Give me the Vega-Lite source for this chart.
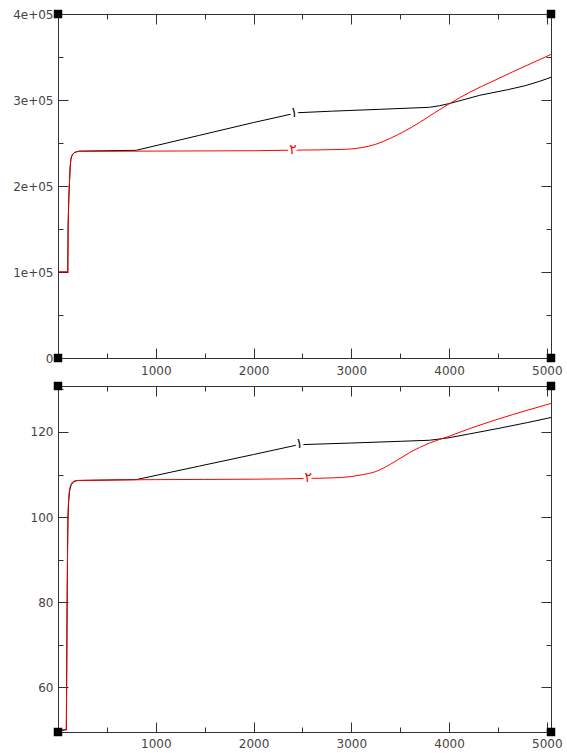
{
  "$schema": "https://vega.github.io/schema/vega-lite/v6.json",
  "padding": {"left": 12, "top": 8, "right": 2, "bottom": 2},
  "bounds": "flush",
  "spacing": 28,
  "background": "white",
  "datasets": {
    "top": [
      {"s": "1", "x": 0, "y": 100000}, {"s": "1", "x": 100, "y": 100000}, {"s": "1", "x": 103, "y": 150000},
      {"s": "1", "x": 110, "y": 185000}, {"s": "1", "x": 118, "y": 205000}, {"s": "1", "x": 125, "y": 222000},
      {"s": "1", "x": 132, "y": 231000}, {"s": "1", "x": 145, "y": 236000}, {"s": "1", "x": 170, "y": 239000},
      {"s": "1", "x": 210, "y": 240500}, {"s": "1", "x": 500, "y": 241000}, {"s": "1", "x": 800, "y": 241500},
      {"s": "1", "x": 1450, "y": 259000}, {"s": "1", "x": 2000, "y": 273800}, {"s": "1", "x": 2450, "y": 285200},
      {"s": "1", "x": 2800, "y": 287000}, {"s": "1", "x": 3300, "y": 289200}, {"s": "1", "x": 3800, "y": 291500},
      {"s": "1", "x": 3900, "y": 293300}, {"s": "1", "x": 4008, "y": 296000}, {"s": "1", "x": 4315, "y": 305500},
      {"s": "1", "x": 4600, "y": 312000}, {"s": "1", "x": 4775, "y": 316500}, {"s": "1", "x": 4920, "y": 321500},
      {"s": "1", "x": 5043, "y": 326300},
      {"s": "2", "x": 0, "y": 100000}, {"s": "2", "x": 100, "y": 100000}, {"s": "2", "x": 104, "y": 150000},
      {"s": "2", "x": 111, "y": 185000}, {"s": "2", "x": 118, "y": 207000}, {"s": "2", "x": 126, "y": 225000},
      {"s": "2", "x": 135, "y": 233000}, {"s": "2", "x": 150, "y": 237000}, {"s": "2", "x": 180, "y": 239500},
      {"s": "2", "x": 230, "y": 240300}, {"s": "2", "x": 1000, "y": 240600}, {"s": "2", "x": 2000, "y": 241000},
      {"s": "2", "x": 2500, "y": 241800}, {"s": "2", "x": 2900, "y": 242500}, {"s": "2", "x": 3100, "y": 244500},
      {"s": "2", "x": 3250, "y": 248500}, {"s": "2", "x": 3400, "y": 255500}, {"s": "2", "x": 3550, "y": 264000},
      {"s": "2", "x": 3700, "y": 274000}, {"s": "2", "x": 3850, "y": 285000}, {"s": "2", "x": 4008, "y": 296000},
      {"s": "2", "x": 4212, "y": 309000}, {"s": "2", "x": 4450, "y": 322000}, {"s": "2", "x": 4652, "y": 332800},
      {"s": "2", "x": 4850, "y": 343000}, {"s": "2", "x": 5043, "y": 353000}
    ],
    "bottom": [
      {"s": "1", "x": 0, "y": 50}, {"s": "1", "x": 85, "y": 50}, {"s": "1", "x": 92, "y": 75},
      {"s": "1", "x": 97, "y": 90}, {"s": "1", "x": 102, "y": 100}, {"s": "1", "x": 110, "y": 104},
      {"s": "1", "x": 120, "y": 106.3}, {"s": "1", "x": 135, "y": 107.6}, {"s": "1", "x": 160, "y": 108.3},
      {"s": "1", "x": 200, "y": 108.6}, {"s": "1", "x": 500, "y": 108.7}, {"s": "1", "x": 800, "y": 108.8},
      {"s": "1", "x": 1450, "y": 112.0}, {"s": "1", "x": 2000, "y": 114.7}, {"s": "1", "x": 2460, "y": 117.0},
      {"s": "1", "x": 3000, "y": 117.4}, {"s": "1", "x": 3500, "y": 117.8}, {"s": "1", "x": 3800, "y": 118.05},
      {"s": "1", "x": 3990, "y": 118.6}, {"s": "1", "x": 4200, "y": 119.5}, {"s": "1", "x": 4520, "y": 120.9},
      {"s": "1", "x": 4800, "y": 122.2}, {"s": "1", "x": 5043, "y": 123.4},
      {"s": "2", "x": 0, "y": 50}, {"s": "2", "x": 85, "y": 50}, {"s": "2", "x": 92, "y": 75},
      {"s": "2", "x": 97, "y": 90}, {"s": "2", "x": 102, "y": 100}, {"s": "2", "x": 110, "y": 104.5},
      {"s": "2", "x": 120, "y": 106.6}, {"s": "2", "x": 135, "y": 107.8}, {"s": "2", "x": 160, "y": 108.4},
      {"s": "2", "x": 200, "y": 108.6}, {"s": "2", "x": 1000, "y": 108.8}, {"s": "2", "x": 2000, "y": 108.9},
      {"s": "2", "x": 2600, "y": 109.1}, {"s": "2", "x": 2900, "y": 109.3}, {"s": "2", "x": 3100, "y": 109.9},
      {"s": "2", "x": 3250, "y": 110.7}, {"s": "2", "x": 3400, "y": 112.4}, {"s": "2", "x": 3600, "y": 115.2},
      {"s": "2", "x": 3800, "y": 117.4}, {"s": "2", "x": 3990, "y": 118.9}, {"s": "2", "x": 4200, "y": 120.7},
      {"s": "2", "x": 4500, "y": 123.0}, {"s": "2", "x": 4800, "y": 125.1}, {"s": "2", "x": 5043, "y": 126.7}
    ],
    "topLabels": [
      {"s": "1", "x": 2414, "y": 284700, "t": "١"},
      {"s": "2", "x": 2404, "y": 242000, "t": "٢"}
    ],
    "bottomLabels": [
      {"s": "1", "x": 2467, "y": 117.2, "t": "١"},
      {"s": "2", "x": 2559, "y": 109.1, "t": "٢"}
    ],
    "topCorners": [
      {"x": 0, "y": 0}, {"x": 5043, "y": 0}, {"x": 0, "y": 400000}, {"x": 5043, "y": 400000}
    ],
    "bottomCorners": [
      {"x": 0, "y": 49.5}, {"x": 5043, "y": 49.5}, {"x": 0, "y": 130.8}, {"x": 5043, "y": 130.8}
    ]
  },
  "vconcat": [
    {
      "width": 493,
      "height": 344,
      "resolve": {"axis": {"x": "independent", "y": "independent"}},
      "layer": [
        {
          "data": {"name": "top"},
          "transform": [{"filter": "datum.s === '1'"}],
          "mark": {"type": "line", "strokeWidth": 1, "color": "#000000"},
          "encoding": {
            "x": {"field": "x", "type": "quantitative", "scale": {"domain": [0, 5043], "nice": false, "zero": false},
              "axis": {"orient": "bottom", "values": [500, 1000, 1500, 2000, 2500, 3000, 3500, 4000, 4500, 5000], "format": "d",
                "tickSize": {"condition": {"test": "datum.value % 1000 === 0", "value": -10}, "value": -5},
                "labelExpr": "datum.value % 1000 === 0 ? datum.label : ''", "labelPadding": 17, "labelFlush": false, "labelOverlap": false}},
            "y": {"field": "y", "type": "quantitative", "scale": {"domain": [0, 400000], "nice": false},
              "axis": {"orient": "left", "values": [0, 50000, 100000, 150000, 200000, 250000, 300000, 350000, 400000],
                "tickSize": {"condition": {"test": "datum.value % 100000 === 0", "value": -10}, "value": -5},
                "labelExpr": "datum.value === 0 ? '0' : (datum.value % 100000 === 0 ? (datum.value / 100000) + 'e+05' : '')", "labelPadding": 15, "labelFlush": false, "labelOverlap": false}}
          }
        },
        {
          "data": {"name": "top"},
          "transform": [{"filter": "datum.s === '2'"}],
          "mark": {"type": "line", "strokeWidth": 1, "color": "#ff0000", "interpolate": "monotone"},
          "encoding": {
            "x": {"field": "x", "type": "quantitative", "axis": null},
            "y": {"field": "y", "type": "quantitative", "axis": null}
          }
        },
        {
          "data": {"name": "topLabels"},
          "mark": {"type": "text", "fontSize": 14, "font": "DejaVu Sans", "align": "center", "baseline": "middle", "stroke": "white", "strokeWidth": 6, "fill": "white"},
          "encoding": {
            "x": {"field": "x", "type": "quantitative", "axis": null},
            "y": {"field": "y", "type": "quantitative", "axis": null},
            "text": {"field": "t"}
          }
        },
        {
          "data": {"name": "topLabels"},
          "mark": {"type": "text", "fontSize": 14, "font": "DejaVu Sans", "align": "center", "baseline": "middle"},
          "encoding": {
            "x": {"field": "x", "type": "quantitative", "axis": null},
            "y": {"field": "y", "type": "quantitative", "axis": null},
            "text": {"field": "t"},
            "color": {"field": "s", "type": "nominal", "scale": {"domain": ["1", "2"], "range": ["#000000", "#ff0000"]}, "legend": null}
          }
        },
        {
          "data": {"name": "topCorners"},
          "mark": {"type": "square", "size": 72, "color": "#000000", "opacity": 1, "filled": true},
          "encoding": {
            "x": {"field": "x", "type": "quantitative",
              "axis": {"orient": "top", "labels": false, "values": [500, 1000, 1500, 2000, 2500, 3000, 3500, 4000, 4500, 5000],
                "tickSize": {"condition": {"test": "datum.value % 1000 === 0", "value": -10}, "value": -5}}},
            "y": {"field": "y", "type": "quantitative",
              "axis": {"orient": "right", "labels": false, "values": [0, 50000, 100000, 150000, 200000, 250000, 300000, 350000, 400000],
                "tickSize": {"condition": {"test": "datum.value % 100000 === 0", "value": -10}, "value": -5}}}
          }
        }
      ]
    },
    {
      "width": 493,
      "height": 346,
      "resolve": {"axis": {"x": "independent", "y": "independent"}},
      "layer": [
        {
          "data": {"name": "bottom"},
          "transform": [{"filter": "datum.s === '1'"}],
          "mark": {"type": "line", "strokeWidth": 1, "color": "#000000"},
          "encoding": {
            "x": {"field": "x", "type": "quantitative", "scale": {"domain": [0, 5043], "nice": false, "zero": false},
              "axis": {"orient": "bottom", "values": [500, 1000, 1500, 2000, 2500, 3000, 3500, 4000, 4500, 5000], "format": "d",
                "tickSize": {"condition": {"test": "datum.value % 1000 === 0", "value": -10}, "value": -5},
                "labelExpr": "datum.value % 1000 === 0 ? datum.label : ''", "labelPadding": 16, "labelFlush": false, "labelOverlap": false}},
            "y": {"field": "y", "type": "quantitative", "scale": {"domain": [49.5, 130.8], "nice": false, "zero": false},
              "axis": {"orient": "left", "values": [50, 60, 70, 80, 90, 100, 110, 120, 130],
                "tickSize": {"condition": {"test": "datum.value % 20 === 0", "value": -10}, "value": -5},
                "labelExpr": "datum.value % 20 === 0 && datum.value >= 60 ? datum.label : ''", "labelPadding": 15, "labelFlush": false, "labelOverlap": false}}
          }
        },
        {
          "data": {"name": "bottom"},
          "transform": [{"filter": "datum.s === '2'"}],
          "mark": {"type": "line", "strokeWidth": 1, "color": "#ff0000", "interpolate": "monotone"},
          "encoding": {
            "x": {"field": "x", "type": "quantitative", "axis": null},
            "y": {"field": "y", "type": "quantitative", "axis": null}
          }
        },
        {
          "data": {"name": "bottomLabels"},
          "mark": {"type": "text", "fontSize": 14, "font": "DejaVu Sans", "align": "center", "baseline": "middle", "stroke": "white", "strokeWidth": 6, "fill": "white"},
          "encoding": {
            "x": {"field": "x", "type": "quantitative", "axis": null},
            "y": {"field": "y", "type": "quantitative", "axis": null},
            "text": {"field": "t"}
          }
        },
        {
          "data": {"name": "bottomLabels"},
          "mark": {"type": "text", "fontSize": 14, "font": "DejaVu Sans", "align": "center", "baseline": "middle"},
          "encoding": {
            "x": {"field": "x", "type": "quantitative", "axis": null},
            "y": {"field": "y", "type": "quantitative", "axis": null},
            "text": {"field": "t"},
            "color": {"field": "s", "type": "nominal", "scale": {"domain": ["1", "2"], "range": ["#000000", "#ff0000"]}, "legend": null}
          }
        },
        {
          "data": {"name": "bottomCorners"},
          "mark": {"type": "square", "size": 72, "color": "#000000", "opacity": 1, "filled": true},
          "encoding": {
            "x": {"field": "x", "type": "quantitative",
              "axis": {"orient": "top", "labels": false, "values": [500, 1000, 1500, 2000, 2500, 3000, 3500, 4000, 4500, 5000],
                "tickSize": {"condition": {"test": "datum.value % 1000 === 0", "value": -10}, "value": -5}}},
            "y": {"field": "y", "type": "quantitative",
              "axis": {"orient": "right", "labels": false, "values": [50, 60, 70, 80, 90, 100, 110, 120, 130],
                "tickSize": {"condition": {"test": "datum.value % 20 === 0", "value": -10}, "value": -5}}}
          }
        }
      ]
    }
  ],
  "config": {
    "view": {"stroke": null},
    "font": "DejaVu Sans",
    "axis": {"domainColor": "#333333", "tickColor": "#333333", "labelColor": "#444444", "labelFont": "DejaVu Sans", "labelFontSize": 12, "grid": false, "title": null, "domainWidth": 1, "tickWidth": 1}
  }
}
